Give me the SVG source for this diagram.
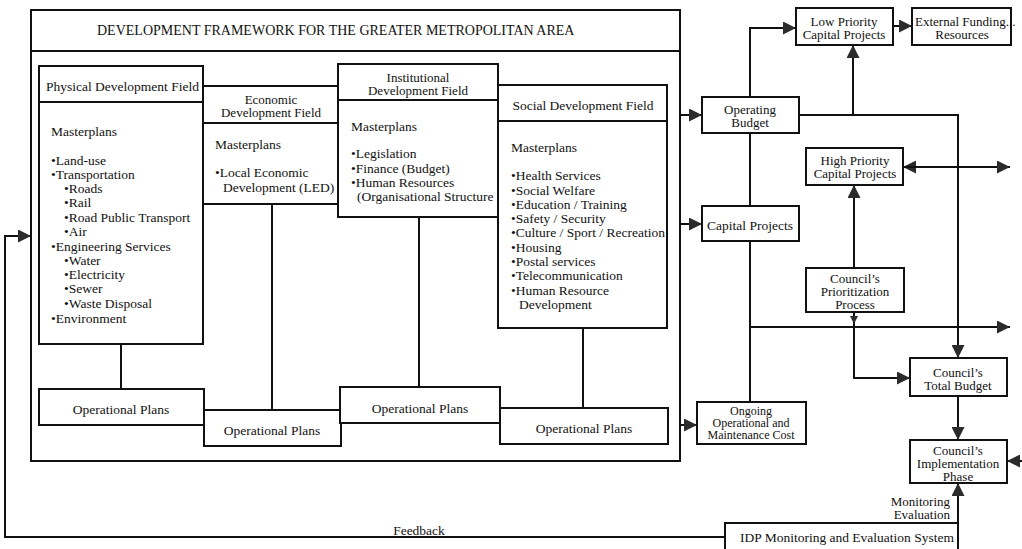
<svg xmlns="http://www.w3.org/2000/svg" width="1022" height="549" viewBox="0 0 1022 549">
  <style>
    text { font-family: "Liberation Serif", "Times New Roman", serif; font-size: 13.5px; fill: #111; }
    .c { text-anchor: middle; }
    .r { text-anchor: end; }
    .box { fill: #fff; stroke: #111; stroke-width: 2; }
    .ln { fill: none; stroke: #111; stroke-width: 2; }
    .arr { fill: none; stroke: #111; stroke-width: 2; marker-end: url(#ah); }
    .t2 { font-size: 13px; }
    .sm { font-size: 12px; }
    .title { font-size: 14px; }
  </style>
  <defs>
    <marker id="ah" markerUnits="userSpaceOnUse" markerWidth="14" markerHeight="13" refX="13" refY="6.5" orient="auto">
      <path d="M0,0 L13,6.5 L0,13 Z" fill="#2b2b2b"/>
    </marker>
    <marker id="ahs" markerUnits="userSpaceOnUse" markerWidth="9" markerHeight="9" refX="8" refY="4" orient="auto">
      <path d="M0,0 L8,4 L0,8 Z" fill="#2b2b2b"/>
    </marker>
  </defs>
  <rect width="1022" height="549" fill="#fff"/>

  <!-- framework frame with title band -->
  <g id="framework">
    <rect class="box" x="31" y="10" width="649" height="451"/>
    <line class="ln" x1="31" y1="51" x2="680" y2="51"/>
    <text class="title" x="97" y="35">DEVELOPMENT FRAMEWORK FOR THE GREATER METROPOLITAN AREA</text>
  </g>

  <!-- field to plan links, budget flows and feedback loop -->
  <g id="connectors">
    <line class="ln" x1="121" y1="344" x2="121" y2="389"/>
    <line class="ln" x1="272" y1="204" x2="272" y2="410"/>
    <line class="ln" x1="419" y1="217" x2="419" y2="387"/>
    <line class="ln" x1="583" y1="328" x2="583" y2="408"/>

    <!-- framework outputs -->
    <line class="arr" x1="680" y1="115" x2="702" y2="115"/>
    <line class="arr" x1="680" y1="224" x2="702" y2="224"/>
    <line class="arr" x1="680" y1="425" x2="697" y2="425"/>

    <!-- budget spine -->
    <line class="ln" x1="750" y1="133" x2="750" y2="206"/>
    <line class="ln" x1="750" y1="241" x2="750" y2="402"/>
    <polyline class="arr" points="750,97 750,28 796,28"/>
    <line class="arr" x1="893" y1="26" x2="912" y2="26"/>
    <polyline class="arr" points="799,115 958,115 958,358"/>
    <line class="arr" x1="853" y1="115" x2="853" y2="45"/>
    <line class="arr" x1="750" y1="327" x2="1010" y2="327"/>
    <line class="arr" x1="1010" y1="167" x2="903" y2="167"/>
    <line class="arr" x1="903" y1="167" x2="1010" y2="167"/>
    <line class="arr" x1="854" y1="268" x2="854" y2="185"/>
    <line fill="none" stroke="#111" stroke-width="2" marker-end="url(#ahs)" x1="854" y1="312" x2="854" y2="324"/>
    <polyline class="arr" points="854,324 854,378 910,378"/>
    <line class="arr" x1="958" y1="396" x2="958" y2="440"/>
    <line class="arr" x1="1022" y1="461" x2="1007" y2="461"/>
    <line class="arr" x1="958" y1="523" x2="958" y2="483"/>

    <!-- feedback loop -->
    <polyline class="arr" points="725,537 5,537 5,236 31,236"/>
  </g>

  <g id="physical-field">
    <rect class="box" x="39" y="66" width="164" height="278"/>
    <line class="ln" x1="39" y1="102" x2="203" y2="102"/>
    <text x="46" y="91">Physical Development Field</text>
    <text x="51" y="136">Masterplans</text>
    <text x="51" y="165">•Land-use</text>
    <text x="51" y="179">•Transportation</text>
    <text x="64" y="193">•Roads</text>
    <text x="64" y="207">•Rail</text>
    <text x="64" y="222">•Road Public Transport</text>
    <text x="64" y="236">•Air</text>
    <text x="51" y="251">•Engineering Services</text>
    <text x="64" y="265">•Water</text>
    <text x="64" y="279">•Electricity</text>
    <text x="64" y="293">•Sewer</text>
    <text x="64" y="308">•Waste Disposal</text>
    <text x="51" y="323">•Environment</text>
  </g>

  <g id="economic-field">
    <rect class="box" x="203" y="86" width="135" height="118"/>
    <line class="ln" x1="203" y1="123" x2="338" y2="123"/>
    <text class="c t2" x="271" y="104">Economic</text>
    <text class="c t2" x="271" y="117">Development Field</text>
    <text x="215" y="149">Masterplans</text>
    <text x="215" y="177">•Local Economic</text>
    <text x="223" y="192">Development (LED)</text>
  </g>

  <g id="institutional-field">
    <rect class="box" x="338" y="64" width="160" height="153"/>
    <line class="ln" x1="338" y1="100" x2="498" y2="100"/>
    <text class="c t2" x="418" y="82">Institutional</text>
    <text class="c t2" x="418" y="95">Development Field</text>
    <text x="351" y="131">Masterplans</text>
    <text x="351" y="158">•Legislation</text>
    <text x="351" y="173">•Finance (Budget)</text>
    <text x="351" y="187">•Human Resources</text>
    <text x="357" y="201">(Organisational Structure</text>
  </g>

  <g id="social-field">
    <rect class="box" x="498" y="85" width="169" height="243"/>
    <line class="ln" x1="498" y1="121" x2="667" y2="121"/>
    <text class="c" x="583" y="110">Social Development Field</text>
    <text x="511" y="152">Masterplans</text>
    <text x="511" y="180">•Health Services</text>
    <text x="511" y="195">•Social Welfare</text>
    <text x="511" y="209">•Education / Training</text>
    <text x="511" y="223">•Safety / Security</text>
    <text x="511" y="237">•Culture / Sport / Recreation</text>
    <text x="511" y="252">•Housing</text>
    <text x="511" y="266">•Postal services</text>
    <text x="511" y="280">•Telecommunication</text>
    <text x="511" y="295">•Human Resource</text>
    <text x="519" y="309">Development</text>
  </g>

  <g id="op-plans-1">
    <rect class="box" x="39" y="389" width="165" height="36"/>
    <text class="c" x="121" y="414">Operational Plans</text>
  </g>
  <g id="op-plans-2">
    <rect class="box" x="204" y="410" width="137" height="36"/>
    <text class="c" x="272" y="435">Operational Plans</text>
  </g>
  <g id="op-plans-3">
    <rect class="box" x="340" y="387" width="160" height="36"/>
    <text class="c" x="420" y="413">Operational Plans</text>
  </g>
  <g id="op-plans-4">
    <rect class="box" x="500" y="408" width="168" height="36"/>
    <text class="c" x="584" y="433">Operational Plans</text>
  </g>

  <g id="operating-budget">
    <rect class="box" x="702" y="97" width="97" height="36"/>
    <text class="c t2" x="750" y="114">Operating</text>
    <text class="c t2" x="750" y="127">Budget</text>
  </g>

  <g id="capital-projects">
    <rect class="box" x="702" y="206" width="97" height="35"/>
    <text class="c" x="750" y="230">Capital Projects</text>
  </g>

  <g id="ongoing-cost">
    <rect class="box" x="697" y="402" width="109" height="42"/>
    <text class="c sm" x="751" y="415">Ongoing</text>
    <text class="c sm" x="751" y="427">Operational and</text>
    <text class="c sm" x="751" y="439">Maintenance Cost</text>
  </g>

  <g id="low-priority">
    <rect class="box" x="796" y="8" width="97" height="37"/>
    <text class="c t2" x="844" y="26">Low Priority</text>
    <text class="c t2" x="844" y="39">Capital Projects</text>
  </g>

  <g id="external-funding">
    <rect class="box" x="912" y="8" width="99" height="37"/>
    <text class="t2" x="915" y="26">External Funding...</text>
    <text class="c t2" x="962" y="39">Resources</text>
  </g>

  <g id="high-priority">
    <rect class="box" x="806" y="148" width="97" height="37"/>
    <text class="c t2" x="855" y="165">High Priority</text>
    <text class="c t2" x="855" y="178">Capital Projects</text>
  </g>

  <g id="prioritization">
    <rect class="box" x="806" y="268" width="98" height="44"/>
    <text class="c t2" x="855" y="283">Council’s</text>
    <text class="c t2" x="855" y="296">Prioritization</text>
    <text class="c t2" x="855" y="309">Process</text>
  </g>

  <g id="total-budget">
    <rect class="box" x="910" y="358" width="97" height="38"/>
    <text class="c t2" x="958" y="377">Council’s</text>
    <text class="c t2" x="958" y="390">Total Budget</text>
  </g>

  <g id="implementation">
    <rect class="box" x="910" y="440" width="97" height="43"/>
    <text class="c t2" x="958" y="455">Council’s</text>
    <text class="c t2" x="958" y="468">Implementation</text>
    <text class="c t2" x="958" y="481">Phase</text>
  </g>

  <g id="monitoring-system">
    <rect class="box" x="725" y="523" width="233" height="40"/>
    <text class="c" x="847" y="542">IDP Monitoring and Evaluation System</text>
    <text class="r t2" x="950" y="506">Monitoring</text>
    <text class="r t2" x="950" y="519">Evaluation</text>
  </g>

  <g id="feedback-label">
    <text class="c" x="419" y="535">Feedback</text>
  </g>
</svg>
